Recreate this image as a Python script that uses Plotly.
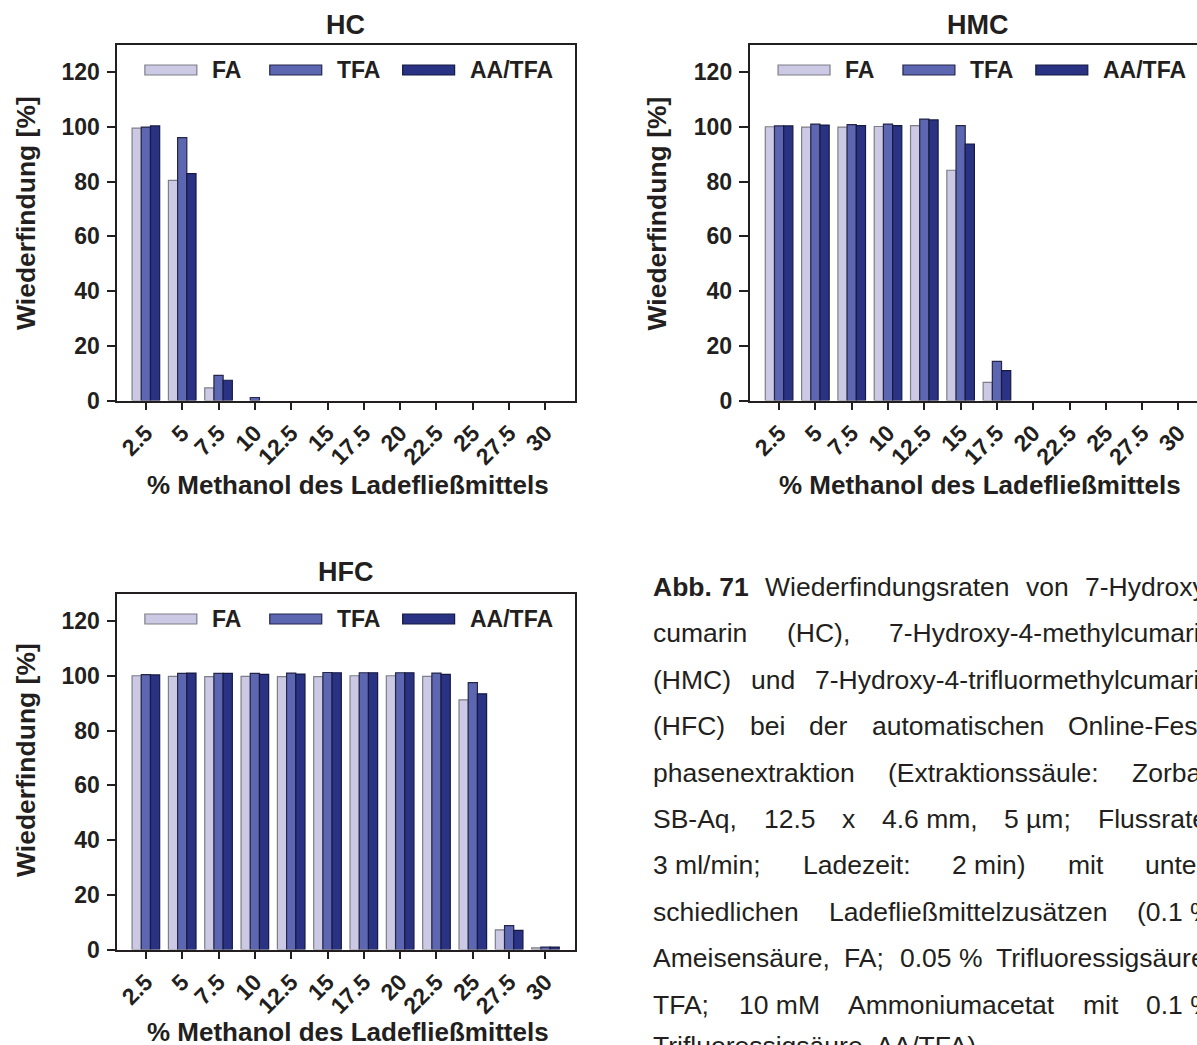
import plotly.graph_objects as go

# ---------------- data ----------------
methanol = ["2.5", "5", "7.5", "10", "12.5", "15", "17.5", "20", "22.5", "25", "27.5", "30"]
series_names = ["FA", "TFA", "AA/TFA"]

hc_fa = [99.6, 80.5, 4.6, 0, 0, 0, 0, 0, 0, 0, 0, 0]
hc_tfa = [100.0, 96.1, 9.2, 1.1, 0, 0, 0, 0, 0, 0, 0, 0]
hc_aa = [100.4, 83.0, 7.4, 0, 0, 0, 0, 0, 0, 0, 0, 0]

hmc_fa = [100.1, 100.0, 100.0, 100.2, 100.5, 84.2, 6.6, 0, 0, 0, 0, 0]
hmc_tfa = [100.4, 101.1, 100.9, 101.1, 102.9, 100.5, 14.3, 0, 0, 0, 0, 0]
hmc_aa = [100.4, 100.7, 100.5, 100.5, 102.6, 93.8, 10.9, 0, 0, 0, 0, 0]

hfc_fa = [100.1, 99.9, 99.8, 99.9, 99.8, 99.8, 100.1, 100.1, 99.9, 91.3, 7.2, 0.6]
hfc_tfa = [100.5, 101.0, 101.0, 101.0, 101.1, 101.3, 101.2, 101.2, 101.1, 97.6, 8.7, 0.9]
hfc_aa = [100.4, 101.1, 101.0, 100.6, 100.7, 101.2, 101.2, 101.2, 100.6, 93.5, 7.0, 0.9]

y_ticks = [0, 20, 40, 60, 80, 100, 120]
panel_titles = ["HC", "HMC", "HFC"]
x_title = "% Methanol des Ladefließmittels"
y_title = "Wiederfindung [%]"

caption_label = "Abb. 71"
caption_lines = [
    ["Wiederfindungsraten", "von", "7-Hydroxy-"],
    ["cumarin", "(HC),", "7-Hydroxy-4-methylcumarin"],
    ["(HMC)", "und", "7-Hydroxy-4-trifluormethylcumarin"],
    ["(HFC)", "bei", "der", "automatischen", "Online-Fest-"],
    ["phasenextraktion", "(Extraktionssäule:", "Zorbax"],
    ["SB-Aq,", "12.5", "x", "4.6 mm,", "5 µm;", "Flussrate:"],
    ["3 ml/min;", "Ladezeit:", "2 min)", "mit", "unter-"],
    ["schiedlichen", "Ladefließmittelzusätzen", "(0.1 %"],
    ["Ameisensäure,", "FA;", "0.05 %", "Trifluoressigsäure,"],
    ["TFA;", "10 mM", "Ammoniumacetat", "mit", "0.1 %"],
]
caption_last = "Trifluoressigsäure, AA/TFA)."

# ---------------- style ----------------
REF_W, REF_H = 1197, 1045
W, H = 1197, 1058
FONT = "Liberation Sans, Arial, Helvetica, sans-serif"
INK = "#231f20"
fills = ["#cbc9e4", "#5d66b0", "#2a3283"]
edges = ["#7e7e88", "#25264a", "#161a40"]


def px(x):
    return x / REF_W


def py(y):
    return 1 - y / REF_H


panels = [
    dict(data=(hc_fa, hc_tfa, hc_aa), xd=(116.5, 574), yd=(45, 400.5), xr=(-0.784, 11.8), mirror=True,
         title_xy=(345, 25), ytitle_xy=(25, 213), xtitle_xy=(347, 485), legend_y=70, legend_x0=144),
    dict(data=(hmc_fa, hmc_tfa, hmc_aa), xd=(749.3, 1197), yd=(45, 400.5), xr=(-0.81, 11.51), mirror=False,
         title_xy=(978, 25), ytitle_xy=(657, 213), xtitle_xy=(980, 485), legend_y=70, legend_x0=777.7),
    dict(data=(hfc_fa, hfc_tfa, hfc_aa), xd=(116.5, 574), yd=(594, 949.5), xr=(-0.784, 11.8), mirror=True,
         title_xy=(345, 572), ytitle_xy=(25, 760), xtitle_xy=(347, 1032), legend_y=619, legend_x0=144),
]

fig = go.Figure()
layout = dict(
    width=W, height=H, autosize=False,
    margin=dict(l=0, r=0, t=0, b=0),
    paper_bgcolor="white", plot_bgcolor="white",
    barmode="group", bargap=0.24, bargroupgap=0,
    showlegend=False,
    font=dict(family=FONT, color=INK),
)
annotations = []
shapes = []

for i, p in enumerate(panels):
    k = "" if i == 0 else str(i + 1)
    xa, ya = "x" + k, "y" + k
    for j, (vals, name) in enumerate(zip(p["data"], series_names)):
        fig.add_trace(go.Bar(
            x=methanol, y=[v if v > 0 else None for v in vals], name=name, xaxis=xa, yaxis=ya,
            marker=dict(color=fills[j], line=dict(color=edges[j], width=1.2)),
            offsetgroup=str(j), showlegend=False,
        ))
    layout["xaxis" + k] = dict(
        domain=[px(p["xd"][0]), px(p["xd"][1])], anchor=ya,
        type="category", range=list(p["xr"]),
        showline=True, linecolor=INK, linewidth=1.8, mirror=True,
        ticks="outside", ticklen=8, tickwidth=1.8, tickcolor=INK,
        tickangle=-45, tickfont=dict(family=FONT, size=23, color=INK, weight="bold"),
        showgrid=False, zeroline=False, fixedrange=True,
    )
    layout["yaxis" + k] = dict(
        domain=[py(p["yd"][1]), py(p["yd"][0])], anchor=xa,
        range=[0, 130], tickvals=y_ticks,
        showline=True, linecolor=INK, linewidth=1.8, mirror=p["mirror"],
        ticks="outside", ticklen=9, tickwidth=1.8, tickcolor=INK,
        tickfont=dict(family=FONT, size=23, color=INK, weight="bold"),
        ticklabelstandoff=2,
        showgrid=False, zeroline=False, fixedrange=True,
    )
    annotations.append(dict(text=panel_titles[i], x=px(p["title_xy"][0]), y=py(p["title_xy"][1]),
                            xref="paper", yref="paper", showarrow=False, xanchor="center", yanchor="middle",
                            font=dict(family=FONT, size=27, color=INK, weight="bold")))
    annotations.append(dict(text=y_title, x=px(p["ytitle_xy"][0]), y=py(p["ytitle_xy"][1]),
                            xref="paper", yref="paper", showarrow=False, textangle=-90,
                            xanchor="center", yanchor="middle",
                            font=dict(family=FONT, size=26.5, color=INK, weight="bold")))
    annotations.append(dict(text=x_title, x=px(p["xtitle_xy"][0]), y=py(p["xtitle_xy"][1]),
                            xref="paper", yref="paper", showarrow=False, xanchor="center", yanchor="middle",
                            font=dict(family=FONT, size=26, color=INK, weight="bold")))
    x0 = p["legend_x0"]
    offsets = [0, 125, 258]
    for j, name in enumerate(series_names):
        sx = x0 + offsets[j]
        ly = p["legend_y"]
        shapes.append(dict(type="rect", xref="paper", yref="paper",
                           x0=px(sx), x1=px(sx + 52), y0=py(ly + 5), y1=py(ly - 5),
                           fillcolor=fills[j], line=dict(color=edges[j], width=1.2)))
        annotations.append(dict(text=name, x=px(sx + 65), y=py(ly), xref="paper", yref="paper",
                                showarrow=False, xanchor="left", yanchor="middle",
                                font=dict(family=FONT, size=23, color=INK, weight="bold")))

# ---------------- caption: justified text (Arial/Liberation advance widths) ----------------
REG = {" ": 278, "%": 889, "(": 333, ")": 333, ",": 278, "-": 333, ".": 278, "/": 278, ":": 278, ";": 278,
       "µ": 576, "ä": 556, "ß": 611}
for ch in "0123456789":
    REG[ch] = 556
REG.update(dict(zip("ABCDEFGHIJKLMNOPQRSTUVWXYZ",
                    [667, 667, 722, 722, 667, 611, 778, 722, 278, 500, 667, 556, 833, 722, 778, 667, 778, 722,
                     667, 611, 722, 667, 944, 667, 667, 611])))
REG.update(dict(zip("abcdefghijklmnopqrstuvwxyz",
                    [556, 556, 500, 556, 556, 278, 556, 556, 222, 222, 500, 222, 833, 556, 556, 556, 556, 333,
                     500, 278, 556, 500, 722, 500, 500, 500])))
BOLD = {"A": 722, "b": 611, ".": 278, " ": 278, "7": 556, "1": 556}

CAP_SIZE = 26.5
CAP_LEFT, CAP_RIGHT = 652, 1213
CAP_Y0, CAP_DY = 587, 46.4
CAP_LAST_Y = 1046


def tw(s, table=REG):
    return sum(table.get(c, 556) for c in s) / 1000 * CAP_SIZE


def cap_ann(text, x, y):
    return dict(text=text, x=px(x - 1), y=py(y), xref="paper", yref="paper",
                showarrow=False, xanchor="left", yanchor="middle",
                font=dict(family=FONT, size=CAP_SIZE, color=INK))


for li, words in enumerate(caption_lines):
    y = CAP_Y0 + li * CAP_DY
    tokens = ([("<b>" + caption_label + "</b>", tw(caption_label, BOLD))] if li == 0 else []) + \
             [(w, tw(w)) for w in words]
    total = sum(w for _, w in tokens)
    gap = (CAP_RIGHT - CAP_LEFT - total) / (len(tokens) - 1)
    x = CAP_LEFT
    for text, wdt in tokens:
        annotations.append(cap_ann(text, x, y))
        x += wdt + gap
annotations.append(cap_ann(caption_last, CAP_LEFT, CAP_LAST_Y))

layout["annotations"] = annotations
layout["shapes"] = shapes
fig.update_layout(**layout)
fig.write_html("out.html", config={"displayModeBar": False},
               post_script="document.body.style.margin='0';document.body.style.overflow='hidden';")
